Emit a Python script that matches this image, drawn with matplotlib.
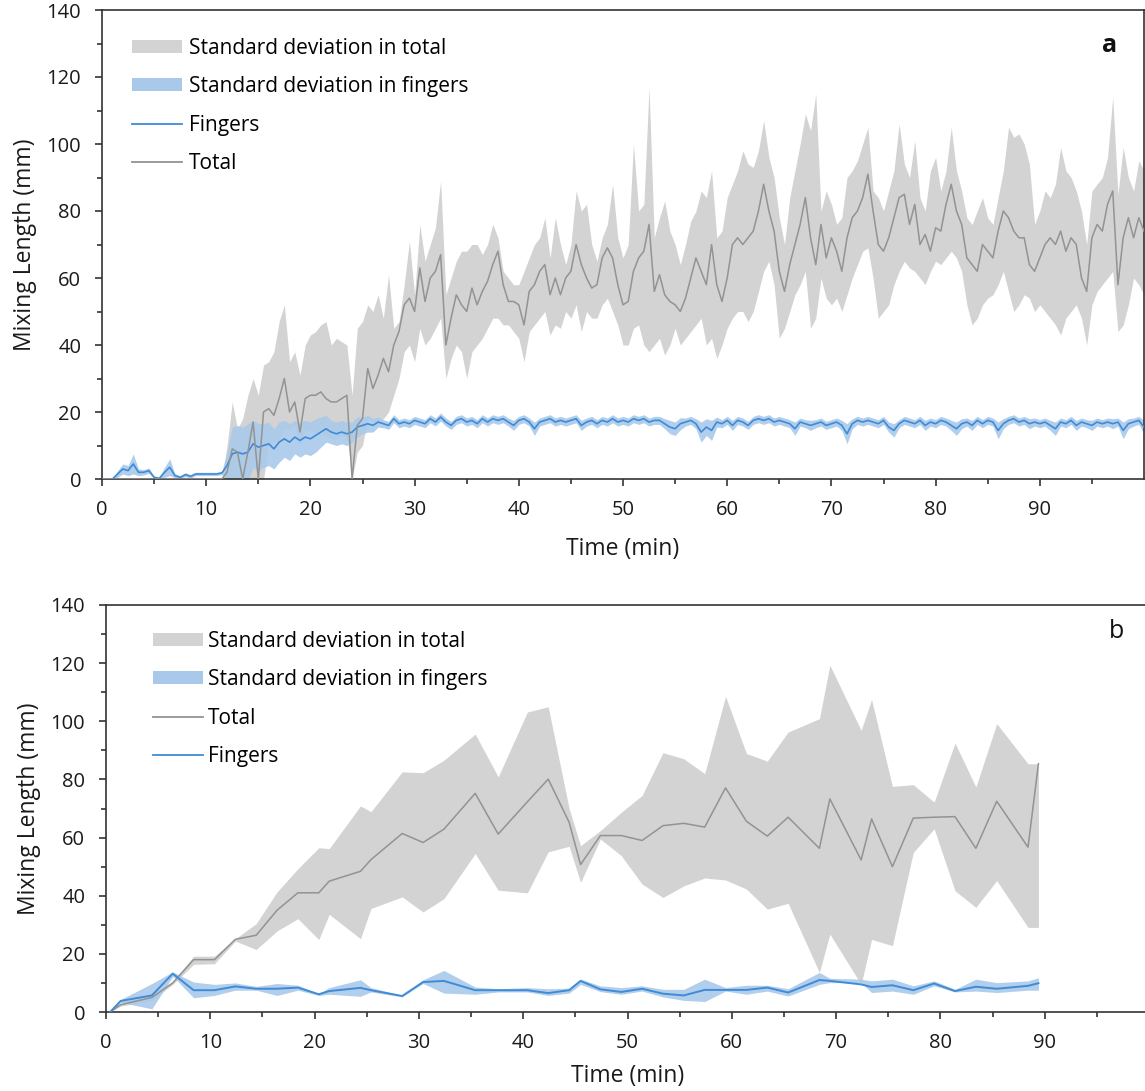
import numpy as np
import matplotlib
matplotlib.use("Agg")
import matplotlib.pyplot as plt
from matplotlib.patches import Patch
from matplotlib.lines import Line2D

plt.rcParams['font.family'] = ['Open Sans', 'DejaVu Sans']

# ---------------- Panel a data (0.5 min sampling) ----------------
time_a = np.arange(0, 100.5, 0.5)

total_mean_a = [
    0, 0, 0, 0, 0, 0, 0, 0, 0, 0,
    0, 0, 0, 0, 0, 0, 0, 0, 0, 0,
    0, 0, 0, 0, 2, 9, 8, 0, 8, 17,
    0, 20, 21, 19, 24, 30, 20, 23, 14, 24,
    25, 25, 26, 24, 23, 23, 24, 25, 0, 16,
    18, 33, 27, 31, 36, 32, 40, 44, 52, 54,
    50, 63, 53, 60, 62, 67, 40, 48, 55, 52,
    50, 57, 52, 56, 59, 64, 68, 58, 53, 53,
    52, 46, 56, 58, 62, 64, 55, 60, 55, 60,
    62, 70, 64, 60, 57, 58, 66, 69, 66, 58,
    52, 53, 62, 66, 68, 76, 56, 61, 55, 53,
    52, 50, 54, 60, 66, 62, 58, 70, 58, 53,
    60, 70, 72, 70, 72, 74, 80, 88, 80, 74,
    62, 56, 64, 70, 76, 84, 72, 64, 76, 66,
    72, 68, 62, 72, 78, 80, 84, 91, 80, 70,
    68, 72, 78, 84, 85, 76, 82, 70, 73, 68,
    75, 74, 82, 88, 80, 76, 66, 64, 62, 70,
    68, 66, 74, 80, 78, 74, 72, 72, 64, 62,
    66, 70, 72, 70, 74, 68, 72, 70, 60, 56,
    72, 76, 74, 82, 86, 58, 72, 78, 72, 78,
    74]

total_upper_a = [
    0, 0, 0, 0, 0, 0, 0, 0, 0, 0,
    0, 0, 0, 0, 0, 0, 0, 0, 0, 0,
    0, 0, 0, 0, 10, 23, 15, 18, 25, 30,
    25, 34, 35, 38, 47, 52, 35, 38, 31, 40,
    43, 44, 46, 47, 40, 42, 41, 40, 25, 45,
    47, 52, 50, 55, 48, 61, 45, 47, 58, 71,
    55, 76, 65, 70, 75, 89, 55, 60, 65, 68,
    68, 70, 70, 67, 70, 76, 72, 62, 60, 58,
    58, 62, 66, 70, 72, 78, 66, 78, 70, 64,
    70, 86, 80, 82, 70, 65, 72, 76, 88, 72,
    66, 70, 100, 80, 82, 117, 72, 78, 83, 74,
    70, 64, 70, 77, 80, 86, 84, 92, 72, 74,
    84, 88, 92, 98, 94, 93, 98, 107, 96, 90,
    78, 70, 84, 92, 100, 109, 104, 115, 80, 86,
    82, 76, 78, 90, 92, 95, 100, 105, 86, 84,
    80, 86, 92, 106, 94, 90, 101, 84, 80, 92,
    96, 86, 92, 105, 92, 86, 78, 76, 80, 84,
    78, 76, 84, 92, 105, 102, 103, 100, 94, 76,
    80, 86, 84, 88, 99, 92, 90, 86, 80, 70,
    86, 88, 90, 96, 114, 85, 99, 90, 86, 95,
    92]

total_lower_a = [
    0, 0, 0, 0, 0, 0, 0, 0, 0, 0,
    0, 0, 0, 0, 0, 0, 0, 0, 0, 0,
    0, 0, 0, 0, 0, 0, 0, 0, 0, 0,
    0, 0, 10, 11, 12, 15, 15, 16, 10, 15,
    14, 14, 14, 13, 12, 12, 13, 13, 0, 8,
    10, 18, 17, 17, 18, 20, 25, 30, 38, 40,
    35, 45, 40, 42, 45, 48, 30, 36, 40, 38,
    30, 38, 40, 42, 45, 48, 48, 46, 46, 44,
    42, 35, 44, 46, 48, 50, 43, 46, 45, 50,
    48, 52, 44, 50, 48, 48, 52, 54, 50, 46,
    40, 40, 45, 46, 40, 38, 40, 42, 37, 40,
    45, 40, 42, 44, 46, 48, 40, 42, 36, 40,
    45, 48, 50, 50, 47, 50, 56, 62, 65, 58,
    42, 45, 50, 55, 58, 62, 45, 48, 60, 54,
    52, 54, 50, 55, 60, 64, 68, 69, 60, 48,
    50, 52, 58, 62, 65, 63, 62, 60, 58, 62,
    65, 64, 66, 68, 66, 62, 52, 46, 48, 52,
    54, 55, 58, 62, 56, 50, 52, 55, 54, 50,
    52, 50, 48, 46, 43, 48, 50, 52, 48, 40,
    52, 56, 58, 60, 62, 44, 46, 52, 60, 58,
    55]

fingers_mean_a = [
    0, 0, 0, 1.5, 3, 2.5, 4.5, 2, 2, 2.5,
    0.5, 0.2, 2, 3.5, 1, 0.5, 1.3, 0.8, 1.5, 1.5,
    1.5, 1.5, 1.5, 1.8, 4, 7.5, 8, 7.5, 8, 10.5,
    9.5, 10, 10.5, 9, 11, 12, 11, 12.5, 11.5, 12.5,
    12, 13, 14, 15, 14, 13.5, 14, 13.5, 14, 15.5,
    16, 16.5, 16, 17, 16.5, 16, 18, 16.5, 17, 16.5,
    17.5, 17, 16.5, 18, 17, 18.5, 17, 16, 17.5, 18,
    17, 17.5, 16.5, 18, 17, 18, 17.5, 18, 17, 16,
    17.5, 18, 17, 15, 17, 17.5, 18, 17, 17.5, 17,
    17.5, 18, 16, 17, 17.5, 16.5, 17.5, 17, 18, 17,
    17.5, 17, 18, 17.5, 18, 17, 17.5, 17.5, 16.5, 15.5,
    15, 16.5, 17, 17.5, 16.5, 14, 15.5, 14.5, 17, 16.5,
    17.5, 16, 17.5, 17, 16, 17.5, 18, 17.5, 18, 17,
    17.5, 17, 16.5, 15, 17, 16.5, 16, 16.5, 17, 16,
    16.5, 17, 16, 13.5, 16.5, 17.5, 17, 17.5, 17, 16.5,
    17.5, 15.5, 14.5, 16.5, 17.5, 17, 16.5, 17.5, 16, 17,
    16.5, 17.5, 17, 16, 15, 16.5, 17, 16, 17.5, 16.5,
    17.5, 17, 14.5, 16.5, 17.5, 18, 17, 17.5, 16.5, 17,
    16.5, 17, 16, 15, 17, 16.5, 17.5, 16, 17, 16.5,
    16, 17, 16.5, 17, 16.5, 17, 14.5, 16.5, 17, 17.5,
    15.5]

fingers_sd_a = [
    0, 0, 0, 1, 1.5, 1.5, 3, 1, 0.8, 0.8,
    0.3, 0.3, 1.5, 2.5, 0.6, 0.4, 0.6, 0.5, 0.5, 0.5,
    0.5, 0.5, 0.5, 0.5, 4, 8, 8, 8, 8.5, 7,
    7, 6.5, 6.5, 6, 6, 5.5, 5.5, 5, 5, 5,
    5, 5, 4.5, 4, 3.5, 3.5, 3.5, 3.5, 3, 3,
    2.5, 2.5, 2, 1.5, 1.2, 1.2, 1.2, 1.2, 1.2, 1.2,
    1.2, 1.2, 1.2, 1.2, 1.2, 1.2, 1.2, 1.2, 1.2, 1.2,
    1.2, 1.2, 1.2, 1.2, 1.2, 1.2, 1.2, 1.2, 1.2, 1.5,
    1.2, 1.2, 1.2, 2, 1.2, 1.2, 1.2, 1.2, 1.2, 1.2,
    1.2, 1.2, 1.5, 1.2, 1.2, 1.2, 1.2, 1.2, 1.2, 1.2,
    1.2, 1.2, 1.2, 1.2, 1.2, 1.2, 1.2, 1.2, 1.5, 2,
    2, 1.8, 1.2, 1.2, 1.5, 3, 2.5, 3, 1.5, 1.2,
    1.2, 1.5, 1.2, 1.2, 1.2, 1.2, 1.2, 1.2, 1.2, 1.2,
    1.2, 1.2, 1.2, 2, 1.2, 1.2, 1.5, 1.2, 1.2, 1.2,
    1.2, 1.2, 1.5, 3, 1.5, 1.2, 1.2, 1.2, 1.2, 1.2,
    1.2, 1.5, 2, 1.2, 1.2, 1.2, 1.2, 1.2, 1.5, 1.2,
    1.2, 1.2, 1.2, 1.5, 2, 1.5, 1.2, 1.5, 1.2, 1.2,
    1.2, 1.2, 2.5, 1.5, 1.2, 1.2, 1.2, 1.2, 1.5, 1.2,
    1.2, 1.2, 1.5, 2, 1.2, 1.2, 1.2, 1.5, 1.2, 1.2,
    1.5, 1.2, 1.2, 1.2, 1.5, 1.2, 2.5, 1.5, 1.2, 1.2,
    2]

# ---------------- Panel b data ----------------
time_b = [0.4, 1.4, 4.4, 6.4, 8.4, 10.4, 12.4, 14.4, 16.4, 18.4,
          20.4, 21.4, 24.4, 25.4, 28.4, 30.4, 32.4, 35.4, 37.6, 40.4,
          42.4, 44.4, 45.5, 47.4, 49.4, 51.4, 53.4, 55.4, 57.4, 59.4,
          61.4, 63.4, 65.4, 68.4, 69.4, 72.4, 73.4, 75.4, 77.4, 79.4,
          81.4, 83.4, 85.4, 88.4, 89.4]
total_mean_b = [0, 2.5, 5, 10, 18, 18, 25, 26.4, 35, 41,
                41, 45, 48.4, 52.4, 61.4, 58.3, 62.9, 75.2, 61.2, 72.3,
                80.1, 65.3, 50.7, 60.7, 60.7, 59, 64.1, 64.9, 63.6, 77.1,
                65.6, 60.5, 67, 56.3, 73.3, 52.3, 66.4, 50, 66.7, 67,
                67.2, 56.3, 72.5, 56.7, 85.4]
total_upper_b = [0, 3, 6, 10.5, 19.2, 19.2, 25.2, 30.4, 41.3, 49.3,
                 56.5, 56.2, 70.9, 68.9, 82.6, 82.3, 86.6, 95.6, 80.9, 103.2,
                 105, 70, 57.2, 62.4, 68.7, 74.5, 89.2, 87.1, 82, 108.6,
                 88.9, 86.3, 96.3, 100.9, 119.3, 96.9, 107.5, 77.6, 78.2, 72.2,
                 92.5, 77.4, 99.2, 85.4, 85.4]
total_lower_b = [0, 2, 4, 9.5, 16.4, 16.6, 24.4, 21.5, 27.9, 32.1,
                 24.9, 33.6, 25.2, 35.6, 39.6, 34.4, 39, 54.5, 41.9, 41,
                 55.1, 57, 44.6, 59.5, 53.8, 44, 39.4, 43.4, 46.1, 45.4,
                 42.3, 35.4, 37.4, 13.6, 26.8, 9.5, 25, 22.8, 54.9, 63,
                 41.7, 36, 45.2, 29.1, 29.1]
fingers_mean_b = [0, 3.8, 5.7, 13.2, 7.5, 7.5, 8.8, 8.0, 8.0, 8.4,
                  6.1, 7.2, 8.3, 7.5, 5.5, 10.3, 10.7, 7.5, 7.5, 7.5,
                  6.5, 7.5, 10.7, 7.8, 6.9, 8, 6.3, 5.7, 7.6, 7.6,
                  7.6, 8.4, 6.7, 11, 10.7, 9.5, 8.6, 9.2, 7.5, 9.8,
                  7.2, 8.7, 8, 9, 9.9]
fingers_upper_b = [0, 4.3, 9.8, 13.8, 10.3, 9.5, 10, 8.8, 9.8, 9.2,
                   6.3, 8.4, 11.1, 8.4, 5.7, 11.1, 14.3, 8.6, 8, 8.4,
                   8, 8.2, 11.3, 9, 8.4, 9, 7.8, 7.8, 11.3, 8.4,
                   9.2, 9.2, 8, 13.6, 11.6, 11.3, 10.7, 11.3, 9, 10.7,
                   7.8, 11.3, 10.1, 10.7, 11.8]
fingers_lower_b = [0, 3.3, 1.1, 12.3, 4.9, 5.7, 7.5, 7.5, 5.7, 7.5,
                   5.7, 6.1, 5.4, 6.9, 5.2, 9.8, 6.5, 6.1, 6.9, 6.9,
                   5.7, 6.5, 9.5, 7, 6.1, 7.2, 5.2, 4, 3.6, 7.2,
                   6.1, 7.2, 5.5, 9.5, 10.1, 10.1, 6.7, 7.2, 6.1, 9,
                   6.9, 7.2, 6.7, 7.5, 7.5]

x_ticks = [0, 10, 20, 30, 40, 50, 60, 70, 80, 90]
y_ticks = [0, 20, 40, 60, 80, 100, 120, 140]

GRAY_FILL = "#d3d3d3"
GRAY_LINE = "#939393"
BLUE_FILL = "#a9c9ea"
BLUE_LINE = "#3f8bd6"
SPINE = "#333333"
TEXT = "#1a1a1a"

W, H = 1145, 1091
fig = plt.figure(figsize=(W / 100, H / 100), dpi=100)
axA = fig.add_axes([102 / W, 1 - 479 / H, 1042 / W, 469 / H])
axB = fig.add_axes([106 / W, 1 - 1012 / H, 1043 / W, 407 / H])


def style(ax, xlabelpad):
    ax.set_xlim(0, 100)
    ax.set_ylim(0, 140)
    ax.set_xticks(x_ticks)
    ax.set_xticks([v + 5 for v in x_ticks], minor=True)
    ax.set_yticks(y_ticks)
    ax.set_yticks([v + 10 for v in y_ticks[:-1]], minor=True)
    ax.tick_params(axis='both', which='major', direction='out', length=5,
                   width=1.2, color=SPINE, labelsize=14.5, labelcolor=TEXT)
    ax.tick_params(axis='both', which='minor', direction='out', length=3.5,
                   width=1.2, color=SPINE)
    ax.tick_params(axis='x', which='major', pad=10)
    ax.tick_params(axis='y', which='major', pad=10)
    for s in ax.spines.values():
        s.set_color(SPINE)
        s.set_linewidth(1.2)
    ax.set_xlabel("Time (min)", fontsize=16.5, color=TEXT, labelpad=xlabelpad)
    ax.set_ylabel("Mixing Length (mm)", fontsize=16.5, color=TEXT, labelpad=7)


LEG = dict(loc='upper left', frameon=False, fontsize=15, handlelength=2.4,
           handleheight=0.58, borderpad=0, borderaxespad=0, labelspacing=0.84)

# ---- Panel a ----
fm = np.array(fingers_mean_a)
fs = np.array(fingers_sd_a)
axA.fill_between(time_a, total_lower_a, total_upper_a, color=GRAY_FILL, lw=0, zorder=1)
axA.fill_between(time_a, fm - fs, fm + fs, color=BLUE_FILL, lw=0, alpha=0.9, zorder=2)
axA.plot(time_a, fm, color=BLUE_LINE, lw=1.2, zorder=3)
axA.plot(time_a, total_mean_a, color=GRAY_LINE, lw=1.1, zorder=4)
style(axA, 12)
axA.text(0.967, 0.925, "a", transform=axA.transAxes, fontsize=18,
         fontweight='bold', ha='center', va='center', color='#111111')
hA = [Patch(facecolor=GRAY_FILL, edgecolor='none'),
      Patch(facecolor=BLUE_FILL, edgecolor='none'),
      Line2D([], [], color=BLUE_LINE, lw=1.3),
      Line2D([], [], color=GRAY_LINE, lw=1.3)]
lA = ["Standard deviation in total", "Standard deviation in fingers", "Fingers", "Total"]
axA.legend(hA, lA, bbox_to_anchor=(0.029, 0.941), handletextpad=0.33, **LEG)

# ---- Panel b ----
axB.fill_between(time_b, total_lower_b, total_upper_b, color=GRAY_FILL, lw=0, zorder=1)
axB.fill_between(time_b, fingers_lower_b, fingers_upper_b, color=BLUE_FILL, lw=0, alpha=0.9, zorder=2)
axB.plot(time_b, total_mean_b, color=GRAY_LINE, lw=1.1, zorder=3)
axB.plot(time_b, fingers_mean_b, color=BLUE_LINE, lw=1.4, zorder=4)
style(axB, 8)
axB.text(0.969, 0.934, "b", transform=axB.transAxes, fontsize=18,
         ha='center', va='center', color='#111111')
hB = [Patch(facecolor=GRAY_FILL, edgecolor='none'),
      Patch(facecolor=BLUE_FILL, edgecolor='none'),
      Line2D([], [], color=GRAY_LINE, lw=1.3),
      Line2D([], [], color=BLUE_LINE, lw=1.3)]
lB = ["Standard deviation in total", "Standard deviation in fingers", "Total", "Fingers"]
axB.legend(hB, lB, bbox_to_anchor=(0.045, 0.937), handletextpad=0.25, **LEG)

fig.savefig("out.png", dpi=100)
